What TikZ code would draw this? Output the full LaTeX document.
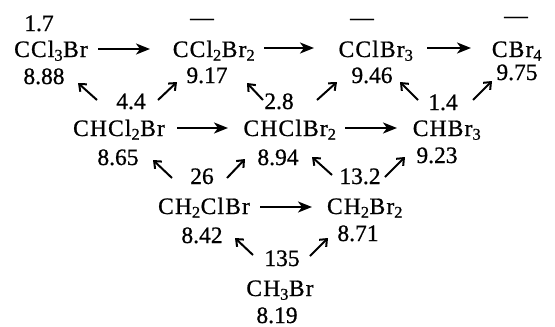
\documentclass[tikz,border=0pt]{standalone}
\usepackage{fontspec}
\setmainfont[FakeBold=0.8]{Liberation Serif}
\newfontfamily\chemfont[LetterSpace=5,FakeBold=0.8]{Liberation Serif}
\usetikzlibrary{arrows.meta}
\tikzset{
  txt/.style={inner sep=0pt, anchor=base, font=\fontsize{23.5}{28}\selectfont},
  chem/.style={txt, font=\fontsize{23.5}{28}\selectfont\chemfont},
  harrow/.style={line width=2.3pt, -{Stealth[length=14pt,width=11pt,inset=4pt]}},
  darrow/.style={line width=2pt, -{Straight Barb[length=6pt,width=10pt]}},
}
\begin{document}
\begin{tikzpicture}[x=1pt,y=-1pt]
\useasboundingbox (0,0) rectangle (555,327);
% row 1
\node[txt] (k1) at (39,31) {1.7};
\node[chem] (a1) at (51,57) {CCl\textsubscript{3}Br};
\node[txt] (v1) at (44,84) {8.88};
\node[txt] (k2) at (202,25) {---};
\node[chem] (a2) at (214,57) {CCl\textsubscript{2}Br\textsubscript{2}};
\node[txt] (v2) at (207,83) {9.17};
\node[txt] (k3) at (362,25) {---};
\node[chem] (a3) at (376,57) {CClBr\textsubscript{3}};
\node[txt] (v3) at (372,83) {9.46};
\node[txt] (k4) at (516,23) {---};
\node[chem] (a4) at (517,57) {CBr\textsubscript{4}};
\node[txt] (v4) at (517,80) {9.75};
% row 2
\node[chem] (b1) at (119,136) {CHCl\textsubscript{2}Br};
\node[txt] (w1) at (118,165) {8.65};
\node[chem] (b2) at (290,136) {CHClBr\textsubscript{2}};
\node[txt] (w2) at (278,165) {8.94};
\node[chem] (b3) at (447,136) {CHBr\textsubscript{3}};
\node[txt] (w3) at (437,163) {9.23};
% row 3
\node[chem] (c1) at (204,214) {CH\textsubscript{2}ClBr};
\node[txt] (x1) at (202,243) {8.42};
\node[chem] (c2) at (365,214) {CH\textsubscript{2}Br\textsubscript{2}};
\node[txt] (x2) at (358,241) {8.71};
% row 4
\node[chem] (d1) at (280,296) {CH\textsubscript{3}Br};
\node[txt] (y1) at (277,323) {8.19};
% rate labels
\node[txt] (r1) at (131,109) {4.4};
\node[txt] (r2) at (279,109) {2.8};
\node[txt] (r3) at (443,110) {1.4};
\node[txt] (r4) at (202,184) {26};
\node[txt] (r5) at (360,184) {13.2};
\node[txt] (r6) at (282,266) {135};
% horizontal arrows
\coordinate (h1s) at (98,49);  \coordinate (h1e) at (150,49);
\coordinate (h2s) at (264,48); \coordinate (h2e) at (314,48);
\coordinate (h3s) at (427,48); \coordinate (h3e) at (471,48);
\coordinate (h4s) at (177,128); \coordinate (h4e) at (228,128);
\coordinate (h5s) at (345,128); \coordinate (h5e) at (397,128);
\coordinate (h6s) at (260,207); \coordinate (h6e) at (312,207);
\foreach \i in {1,...,6} \draw[harrow] (h\i s) -- (h\i e);
% diagonal arrows: tail -> tip
\coordinate (t1) at (97,100);  \coordinate (p1) at (78,83);
\coordinate (t2) at (158,100); \coordinate (p2) at (177,82);
\coordinate (t3) at (263,100); \coordinate (p3) at (247,83);
\coordinate (t4) at (317,100); \coordinate (p4) at (337,82);
\coordinate (t5) at (418,100); \coordinate (p5) at (400,82);
\coordinate (t6) at (473,100); \coordinate (p6) at (492,81);
\coordinate (t7) at (172,178); \coordinate (p7) at (153,160);
\coordinate (t8) at (227,178); \coordinate (p8) at (245,159);
\coordinate (t9) at (332,175); \coordinate (p9) at (312,157);
\coordinate (t10) at (385,177); \coordinate (p10) at (405,157);
\coordinate (t11) at (253,255); \coordinate (p11) at (235,238);
\coordinate (t12) at (310,256); \coordinate (p12) at (328,238);
\foreach \i in {1,...,12} \draw[darrow] (t\i) -- (p\i);
\end{tikzpicture}
\end{document}
